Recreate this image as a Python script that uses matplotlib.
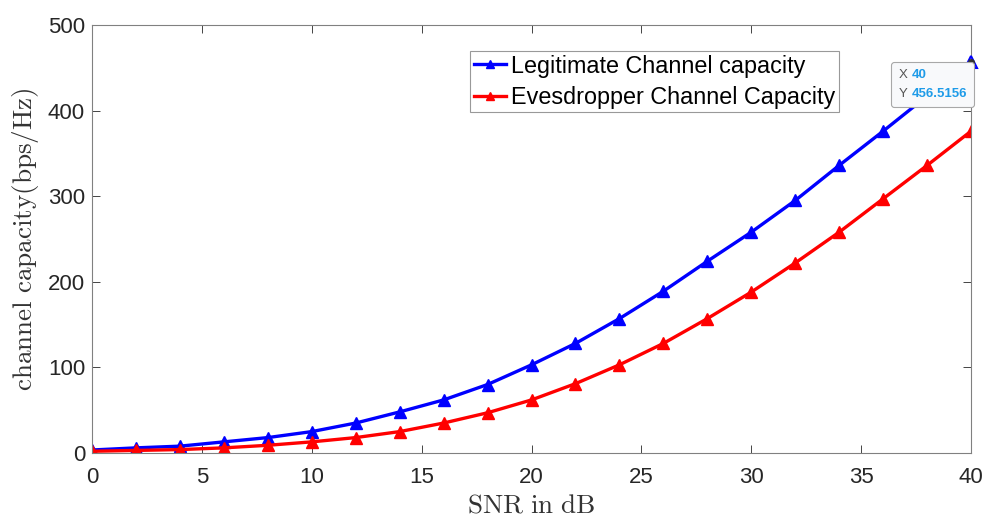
import numpy as np
import matplotlib.pyplot as plt
from matplotlib.offsetbox import TextArea,HPacker,VPacker,AnnotationBbox

# ================================================================================
snr_db=[0,2,4,6,8,10,12,14,16,18,20,22,24,26,28,30,32,34,36,38,40]

legit_capacity=[3.5,6,8,13,18,25,35,48,62,80,103,128,157,189,224,258,295,336,376,417,456.5156]
eves_capacity=[2,3,4,6,9,13,18,25,35,47,62,81,103,128,157,188,222,258,297,336,376]

x_ticks=[0,5,10,15,20,25,30,35,40]
y_ticks=[0,100,200,300,400,500]

# ================================================================================
plt.rcParams['font.family']=['Liberation Sans','DejaVu Sans']
plt.rcParams['mathtext.fontset']='cm'

fig=plt.figure(figsize=(9.86,5.17),dpi=100)
ax=fig.add_axes([0.0933,0.1238,0.8915,0.8278])

ax.plot(snr_db,legit_capacity,color='#0000ff',lw=2.4,marker='^',ms=9,label='Legitimate Channel capacity')
ax.plot(snr_db,eves_capacity,color='#ff0000',lw=2.4,marker='^',ms=9,label='Evesdropper Channel Capacity')

ax.set_xlim(0,40)
ax.set_ylim(0,500)
ax.set_xticks(x_ticks)
ax.set_yticks(y_ticks)
ax.tick_params(direction='in',top=True,right=True,labelsize=16,colors='#262626',length=6,width=0.6,pad=5)
ax.tick_params(axis='x',pad=10)
for s in ax.spines.values():
  s.set_color('#808080')
  s.set_linewidth(0.8)

ax.set_xlabel(r'$\mathrm{SNR\ in\ dB}$',fontsize=19.5,color='#333333',labelpad=3)
ax.set_ylabel(r'$\mathrm{channel\ capacity(bps/Hz)}$',fontsize=19.5,color='#333333',labelpad=5)

leg=ax.legend(loc='upper left',bbox_to_anchor=(470/986,1-51/517),bbox_transform=fig.transFigure,
              fontsize=16.8,frameon=True,fancybox=False,edgecolor='#808080',markerscale=0.6,
              borderpad=0.15,labelspacing=0.35,handlelength=1.4,handletextpad=0.2,borderaxespad=0)
leg.get_frame().set_linewidth(0.8)

# data tip at the last point
ax.plot([snr_db[-1]],[legit_capacity[-1]],marker='^',ms=9,mfc='white',mec='#0000ff',mew=1.5,clip_on=False,zorder=5)
ax.plot([snr_db[-1]],[legit_capacity[-1]],marker='o',ms=4,color='#333333',clip_on=False,zorder=6)

tip_style=dict(fontsize=9.5,color='#555555')
val_style=dict(fontsize=9.5,color='#1e9be8',fontweight='bold')
row_x=HPacker(children=[TextArea('X',textprops=tip_style),TextArea('%g'%snr_db[-1],textprops=val_style)],pad=0,sep=3)
row_y=HPacker(children=[TextArea('Y',textprops=tip_style),TextArea('%.4f'%legit_capacity[-1],textprops=val_style)],pad=0,sep=3)
tip=VPacker(children=[row_x,row_y],pad=0,sep=5,align='left')
ab=AnnotationBbox(tip,xy=(snr_db[-1],legit_capacity[-1]),xybox=(-3,-5),xycoords='data',
                  boxcoords='offset points',box_alignment=(1,1),frameon=True,pad=0.5,
                  bboxprops=dict(boxstyle='round,pad=0.5,rounding_size=0.2',fc='#f8f9fb',ec='#a8a8a8',lw=0.8))
ab.set_zorder(7)
ax.add_artist(ab)

plt.savefig('out.png',dpi=100)
